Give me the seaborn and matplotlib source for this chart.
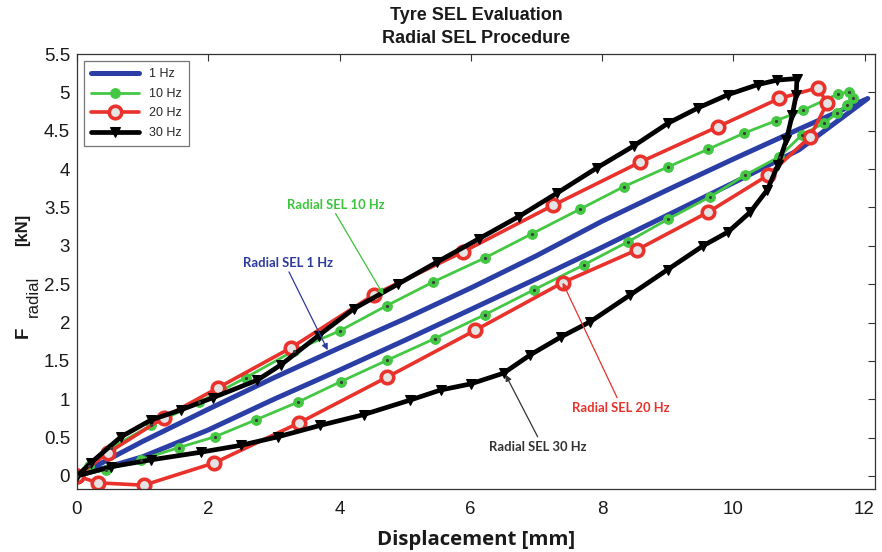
import matplotlib
matplotlib.use("Agg")
import matplotlib.pyplot as plt
import seaborn as sns
import pandas as pd

# ---------------- data ----------------
blue_x = [0, 1, 2, 3, 4, 5, 6, 7, 8, 9, 10, 11, 12.05,
          11, 10, 9, 8, 7, 6, 5, 4, 3, 2, 1, 0]
blue_y = [0, 0.45, 0.87, 1.28, 1.67, 2.05, 2.45, 2.87, 3.32, 3.73, 4.13, 4.52, 4.92,
          4.25, 3.82, 3.40, 2.98, 2.57, 2.17, 1.77, 1.38, 1.00, 0.60, 0.25, 0]

green_x = [0, 0.18, 0.52, 1.13, 1.86, 2.57, 3.30, 4.00, 4.72, 5.43, 6.21, 6.94, 7.67,
           8.33, 9.01, 9.62, 10.17, 10.65, 11.07, 11.60, 11.77, 11.83, 11.74,
           11.58, 11.39, 11.05, 10.70, 10.18, 9.65, 9.01, 8.39, 7.72, 6.97, 6.21,
           5.45, 4.73, 4.02, 3.36, 2.72, 2.10, 1.55, 0.97, 0.44, 0]
green_y = [0, 0.13, 0.37, 0.66, 0.96, 1.28, 1.63, 1.89, 2.22, 2.53, 2.84, 3.16, 3.48,
           3.77, 4.03, 4.26, 4.47, 4.63, 4.77, 4.98, 5.01, 4.93, 4.84,
           4.73, 4.60, 4.45, 4.16, 3.92, 3.64, 3.35, 3.05, 2.75, 2.43, 2.10,
           1.79, 1.51, 1.23, 0.96, 0.73, 0.51, 0.37, 0.21, 0.08, 0]

red_x = [0, 0.47, 1.32, 2.15, 3.26, 4.52, 5.88, 7.26, 8.58, 9.76, 10.70, 11.29, 11.43,
         11.17, 10.53, 9.62, 8.54, 7.40, 6.07, 4.73, 3.38, 2.09, 1.02, 0.32, 0]
red_y = [0, 0.30, 0.76, 1.15, 1.67, 2.36, 2.92, 3.53, 4.09, 4.55, 4.92, 5.06, 4.86,
         4.42, 3.92, 3.44, 2.95, 2.52, 1.90, 1.29, 0.69, 0.17, -0.12, -0.09, 0]

black_x = [0, 0.21, 0.67, 1.13, 1.58, 2.07, 2.75, 3.11, 3.68, 4.22, 4.89, 5.49, 6.12,
           6.73, 7.32, 7.93, 8.48, 9.01, 9.47, 9.92, 10.37, 10.67, 10.97,
           10.96, 10.90, 10.81, 10.68, 10.52, 10.26, 9.92, 9.54, 9.00, 8.43, 7.82,
           7.37, 6.91, 6.50, 6.00, 5.54, 5.08, 4.37, 3.71, 3.06, 2.50, 1.89, 1.13,
           0.52, 0]
black_y = [0, 0.17, 0.51, 0.73, 0.86, 1.02, 1.25, 1.45, 1.83, 2.18, 2.50, 2.79, 3.09,
           3.38, 3.69, 4.02, 4.30, 4.60, 4.80, 4.97, 5.10, 5.16, 5.18,
           4.97, 4.71, 4.38, 4.05, 3.73, 3.44, 3.18, 3.00, 2.69, 2.36, 2.01,
           1.81, 1.58, 1.34, 1.20, 1.12, 0.99, 0.80, 0.66, 0.51, 0.40, 0.31, 0.21,
           0.12, 0]

series_labels = ["1 Hz", "10 Hz", "20 Hz", "30 Hz"]
x_ticks = [0, 2, 4, 6, 8, 10, 12]
y_ticks = [0, 0.5, 1, 1.5, 2, 2.5, 3, 3.5, 4, 4.5, 5, 5.5]
y_tick_labels = ["0", "0.5", "1", "1.5", "2", "2.5", "3", "3.5", "4", "4.5", "5", "5.5"]

# annotations: (text, text position, arrow start, arrow tip)
ann_text = ["Radial SEL 10 Hz", "Radial SEL 1 Hz", "Radial SEL 20 Hz", "Radial SEL 30 Hz"]
ann_text_xy = [(3.94, 3.53), (3.21, 2.78), (8.28, 0.89), (7.02, 0.38)]
ann_start = [(3.94, 3.42), (3.23, 2.66), (8.23, 1.02), (7.02, 0.51)]
ann_tip = [(4.67, 2.36), (3.82, 1.64), (7.40, 2.52), (6.53, 1.32)]
ann_colors = ["#3cc43c", "#2c3a9a", "#e8322b", "#333333"]

# ---------------- styling ----------------
sns.set_style("white")
plt.rcParams["font.family"] = ["Liberation Sans", "DejaVu Sans"]

c_blue = "#2b3ea6"
c_green = "#44c844"
c_red = "#e8322b"
c_black = "#000000"

W, H = 882, 552
fig, ax = plt.subplots(figsize=(W / 100, H / 100), dpi=100)
fig.subplots_adjust(left=77 / W, right=875 / W, top=1 - 54 / H, bottom=1 - 489 / H)

df_b = pd.DataFrame({"x": blue_x, "y": blue_y})
df_g = pd.DataFrame({"x": green_x, "y": green_y})
df_r = pd.DataFrame({"x": red_x, "y": red_y})
df_k = pd.DataFrame({"x": black_x, "y": black_y})

sns.lineplot(data=df_b, x="x", y="y", sort=False, estimator=None, ax=ax,
             color=c_blue, lw=3.6, label=series_labels[0])
sns.lineplot(data=df_g, x="x", y="y", sort=False, estimator=None, ax=ax,
             color=c_green, lw=2.0, marker="o", markersize=7, markerfacecolor=c_green,
             markeredgecolor=c_green, label=series_labels[1])
sns.scatterplot(data=df_g, x="x", y="y", ax=ax, color="#3a3a3a", s=5, linewidth=0,
                legend=False, zorder=5)
sns.lineplot(data=df_r, x="x", y="y", sort=False, estimator=None, ax=ax,
             color=c_red, lw=2.6, marker="o", markersize=9, markerfacecolor="#e4e4e4",
             markeredgecolor=c_red, markeredgewidth=2.6, label=series_labels[2])
sns.lineplot(data=df_k, x="x", y="y", sort=False, estimator=None, ax=ax,
             color=c_black, lw=3.4, marker="v", markersize=7, markerfacecolor=c_black,
             markeredgecolor=c_black, label=series_labels[3])

for t, txy, st, tip, col in zip(ann_text, ann_text_xy, ann_start, ann_tip, ann_colors):
    ax.annotate("", xy=tip, xytext=st,
                arrowprops=dict(arrowstyle="-|>", color=col, lw=0.9,
                                mutation_scale=9, shrinkA=0, shrinkB=0))
    ax.text(txy[0], txy[1], t, color=col, fontsize=9.4, fontweight="bold",
            family=["Lato", "DejaVu Sans"], ha="center", va="center")

ax.set_xlim(0, 12.16)
ax.set_ylim(-0.17, 5.5)
ax.set_xticks(x_ticks)
ax.set_xticklabels([str(v) for v in x_ticks])
ax.set_yticks(y_ticks)
ax.set_yticklabels(y_tick_labels)
ax.tick_params(direction="in", top=True, right=True, length=5, width=0.8,
               color="#333333", labelsize=13.5, labelcolor="#1a1a1a")
ax.tick_params(axis="x", pad=9)
ax.tick_params(axis="y", pad=5)
for sp in ax.spines.values():
    sp.set_color("#333333")
    sp.set_linewidth(0.9)

ax.set_xlabel("Displacement [mm]", fontsize=14.7, fontweight="bold",
              family=["Open Sans", "DejaVu Sans"], color="#1a1a1a", labelpad=8)
ax.set_ylabel("")

# y label built from three rotated pieces: bold F, lowered "radial", bold [kN]
def fig_px(x, y):
    return x / W, 1 - y / H

fx, fy = fig_px(23, 332)
fig.text(fx, fy, "F", rotation=90, ha="center", va="center", fontsize=13.5,
         fontweight="bold", color="#1a1a1a")
rx, ry = fig_px(33, 296)
fig.text(rx, ry, "radial", rotation=90, ha="center", va="center", fontsize=12,
         color="#1a1a1a")
kx, ky = fig_px(23, 230)
fig.text(kx, ky, "[kN]", rotation=90, ha="center", va="center", fontsize=12,
         fontweight="bold", color="#1a1a1a")

ax.set_title("Tyre SEL Evaluation\nRadial SEL Procedure", fontsize=13, fontweight="bold",
             linespacing=1.45, pad=8, color="#1a1a1a")

leg = ax.legend(loc="upper left", fontsize=9, handlelength=3.8, frameon=True,
                fancybox=False, edgecolor="#555555", borderaxespad=0.55,
                labelspacing=0.6, borderpad=0.6)
leg.get_frame().set_linewidth(0.9)

fig.savefig("out.png", dpi=100)
